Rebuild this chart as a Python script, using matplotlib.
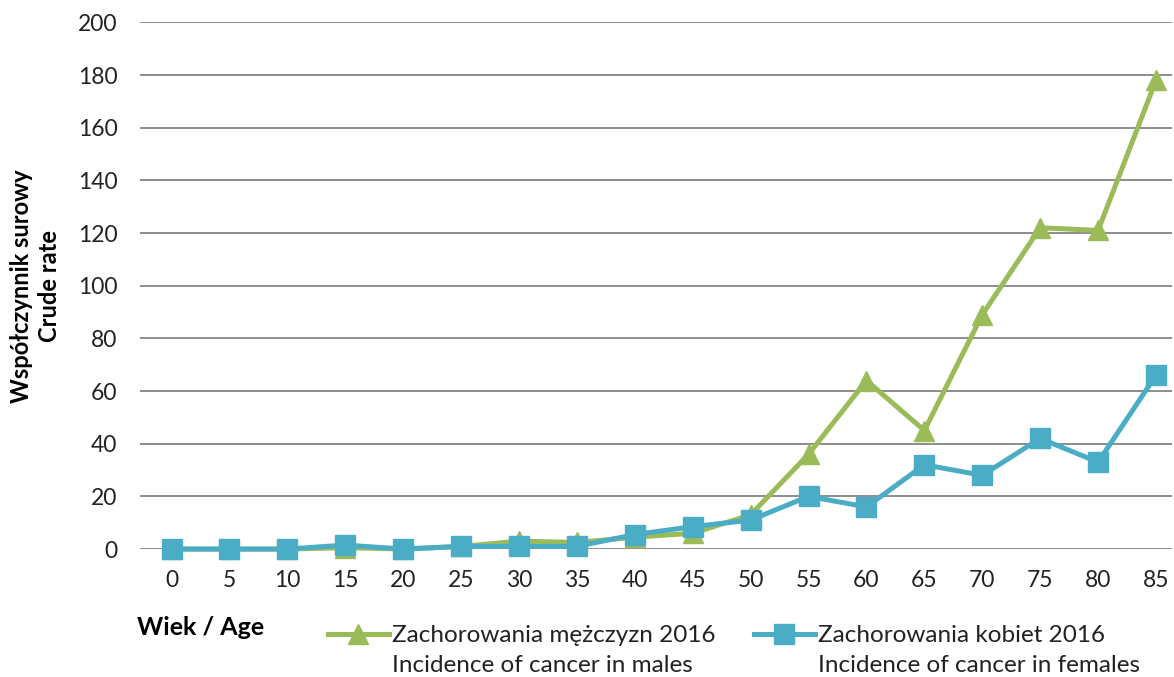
import matplotlib
matplotlib.use("Agg")
import matplotlib.pyplot as plt

ages = [0, 5, 10, 15, 20, 25, 30, 35, 40, 45, 50, 55, 60, 65, 70, 75, 80, 85]
males = [0, 0, 0, 0.5, 0, 1, 3, 2.5, 4.5, 6, 13, 36, 64, 45, 89, 122, 121, 178]
females = [0, 0, 0, 1.5, 0, 1, 1, 1, 5.5, 8.5, 11, 20, 16, 32, 28, 42, 33, 66]

male_label = ["Zachorowania mężczyzn 2016", "Incidence of cancer in males"]
female_label = ["Zachorowania kobiet 2016", "Incidence of cancer in females"]

plt.rcParams['font.family'] = ['Lato', 'DejaVu Sans']

fig = plt.figure(figsize=(11.74, 6.77), dpi=100)
ax = fig.add_axes([0.119, 0.189, 0.879, 0.778])

x = list(range(len(ages)))
ax.plot(x, males, color='#9BBB59', lw=3.6, marker='^', markersize=15, label=male_label[0], zorder=3, clip_on=False)
ax.plot(x, females, color='#4BACC6', lw=3.6, marker='s', markersize=14, label=female_label[0], zorder=4, clip_on=False)

ax.set_xlim(-0.55, 17.27)
ax.set_ylim(0, 200)
ax.set_yticks(range(0, 201, 20))
ax.set_xticks(x)
ax.set_xticklabels([str(a) for a in ages])
ax.tick_params(length=0, labelsize=16.5, colors='#222222')
ax.tick_params(axis='x', pad=15)
ax.tick_params(axis='y', pad=16)
ax.yaxis.grid(True, color='#8c8c8c', lw=1.4)
ax.set_axisbelow(True)
for s in ax.spines.values():
    s.set_visible(False)

ax.set_ylabel("Współczynnik surowy\nCrude rate", fontsize=17, fontweight='bold',
              labelpad=12, linespacing=1.25)
fig.text(0.117, 0.073, "Wiek / Age", fontsize=18, fontweight='bold', ha='left', va='center')

leg = fig.legend(loc='upper left', bbox_to_anchor=(328 / 1174, 1 - 625 / 677), ncol=2, frameon=False,
                 fontsize=17.5, handlelength=2.5, columnspacing=1.6, handletextpad=0.12,
                 borderaxespad=0, borderpad=0)

# second line of each legend label, placed under the first line
fig.canvas.draw()
inv = fig.transFigure.inverted()
for t, second in zip(leg.get_texts(), [male_label[1], female_label[1]]):
    bb = t.get_window_extent()
    x0, y0 = inv.transform((bb.x0, bb.y0 - 30))
    fig.text(x0, y0, second, fontsize=17.5, ha='left', va='bottom', color='#222222')
for t in leg.get_texts():
    t.set_color('#222222')

fig.savefig("out.png", dpi=100)
